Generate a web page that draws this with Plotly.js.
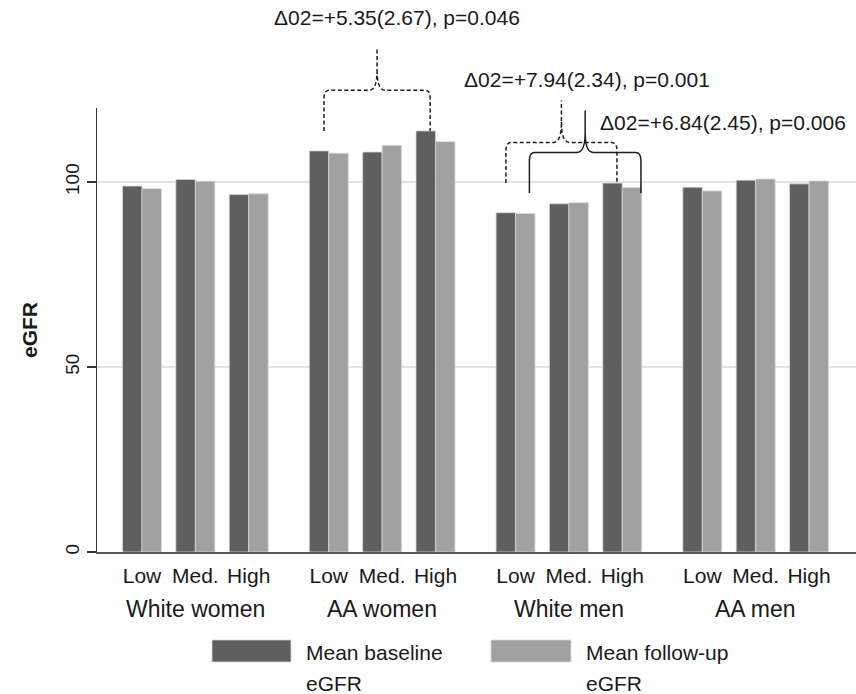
<!DOCTYPE html>
<html><head><meta charset="utf-8">
<script src="https://cdn.plot.ly/plotly-3.0.1.min.js"></script>
<style>html,body{margin:0;padding:0;background:#fff}#chart{width:856px;height:694px}</style>
</head><body><div id="chart"></div>
<script>
// ---- data ----
const groups = ['White women', 'AA women', 'White men', 'AA men'];
const levels = ['Low', 'Med.', 'High'];
const baseline = [98.9, 100.7, 96.6, 108.4, 108.1, 113.8, 91.7, 94.1, 99.7, 98.6, 100.5, 99.5];
const followup = [98.2, 100.2, 96.8, 107.8, 109.9, 110.9, 91.5, 94.4, 98.5, 97.6, 100.8, 100.3];
const seriesNames = ['Mean baseline eGFR', 'Mean follow-up eGFR'];
const legendLines = [['Mean baseline', 'eGFR'], ['Mean follow-up', 'eGFR']];
const comparisonText = ['Δ02=+5.35(2.67), p=0.046', 'Δ02=+7.94(2.34), p=0.001', 'Δ02=+6.84(2.45), p=0.006'];
const comparisonGroup = [1, 2, 2];      // which group the brace spans (Low..High)
const comparisonSeries = [0, 0, 1];     // 0 = baseline, 1 = follow-up
const yTicks = [0, 50, 100];

// ---- styling / layout helpers ----
const colors = ['#5f5f5f', '#a1a1a1'];
const GROUP_STEP = 3.5;
const xpos = [], ticktext = [];
groups.forEach((g, gi) => levels.forEach((l, li) => { xpos.push(gi * GROUP_STEP + li); ticktext.push(l); }));
const groupCenters = groups.map((g, gi) => gi * GROUP_STEP + 1);

const DOM = 444 / 552;   // y-axis domain top (0..120 occupies this fraction)
const YMAX = 120;

const series = [baseline, followup];
const traces = series.map((vals, si) => ({
  type: 'bar', x: xpos, y: vals, name: seriesNames[si],
  marker: { color: colors[si], line: { color: '#d8d8d8', width: 0.8 } },
  hoverinfo: 'y'
}));
// helper trace for the overlay axis used by the braces
traces.push({ type: 'scatter', x: [null], y: [null], xaxis: 'x', yaxis: 'y2', showlegend: false, hoverinfo: 'skip' });

// brace styling per comparison
const braceStyle = [
  { dash: '4px,2.5px', off0: -0.09, off1: -0.10, dy: 0, tx: 2.43, ty: 144.4 },
  { dash: '4px,2.5px', off0: -0.18, off1: -0.10, dy: 0, tx: 5.99, ty: 127.7 },
  { dash: 'solid', off0: 0.26, off1: 0.35, dy: -1.5, tx: 8.55, ty: 116.0 }
];
const RISE = 11, TOP = 11.3, RX = 0.1, RY = 2.2, CX = 0.15, CY = 5.5;

function bracePath(xl, xr, yb, yh, yt) {
  const xm = (xl + xr) / 2;
  return `M${xl},${yb} L${xl},${yh - RY} Q${xl},${yh} ${xl + RX},${yh} L${xm - CX},${yh} ` +
         `Q${xm},${yh} ${xm},${yh + CY} L${xm},${yt} ` +
         `M${xm},${yh + CY} Q${xm},${yh} ${xm + CX},${yh} L${xr - RX},${yh} ` +
         `Q${xr},${yh} ${xr},${yh - RY} L${xr},${yb}`;
}

const shapes = [], annotations = [];
comparisonText.forEach((txt, ci) => {
  const st = braceStyle[ci];
  const g = comparisonGroup[ci];
  const vals = series[comparisonSeries[ci]].slice(g * 3, g * 3 + 3);
  const i0 = g * 3, i2 = g * 3 + 2;
  const yb = Math.max(...vals) + st.dy;
  const yh = yb + RISE, yt = yh + TOP;
  shapes.push({
    type: 'path', xref: 'x', yref: 'y2', layer: 'above',
    path: bracePath(xpos[i0] + st.off0, xpos[i2] + st.off1, yb, yh, yt),
    line: { color: '#1e1e1e', width: 1.5, dash: st.dash }
  });
  annotations.push({
    text: txt, xref: 'x', yref: 'y2', x: st.tx, y: st.ty, xanchor: 'left', yanchor: 'middle',
    showarrow: false, font: { size: 21, color: '#1a1a1a' }
  });
});

// group labels
groups.forEach((g, gi) => annotations.push({
  text: g, xref: 'x', yref: 'paper', x: groupCenters[gi], y: (552 - 609) / 552,
  xanchor: 'center', yanchor: 'middle', showarrow: false, font: { size: 23, color: '#1a1a1a' }
}));

// custom legend (wide swatches)
const legX = [[212, 291], [491, 571]];
const px2x = p => (p - 97) / 759, px2y = p => (552 - p) / 552;
legendLines.forEach((lines, si) => {
  shapes.push({
    type: 'rect', xref: 'paper', yref: 'paper',
    x0: px2x(legX[si][0]), x1: px2x(legX[si][1]), y0: px2y(640), y1: px2y(662),
    fillcolor: colors[si], line: { color: '#d8d8d8', width: 0.8 }
  });
  lines.forEach((ln, li) => annotations.push({
    text: ln, xref: 'paper', yref: 'paper', x: px2x(legX[si][1] + 13), y: px2y(652 + li * 31),
    xanchor: 'left', yanchor: 'middle', showarrow: false, font: { size: 21, color: '#1a1a1a' }
  }));
});

const layout = {
  width: 856, height: 694,
  margin: { l: 97, r: 0, t: 0, b: 142, pad: 0 },
  paper_bgcolor: '#ffffff', plot_bgcolor: 'rgba(0,0,0,0)',
  font: { family: '"Liberation Sans", Arial, Helvetica, sans-serif', color: '#1a1a1a', size: 21 },
  barmode: 'group', bargap: 0.27, bargroupgap: 0, showlegend: false,
  xaxis: {
    range: [-0.843, 13.38], tickvals: xpos, ticktext: ticktext, ticks: '',
    showline: true, linecolor: '#5a5a5a', linewidth: 2, showgrid: false, zeroline: false,
    tickfont: { size: 21 }, ticklabelstandoff: 4, fixedrange: true
  },
  yaxis: {
    domain: [0, DOM], range: [0, YMAX], tickvals: yTicks, ticks: 'outside', ticklen: 9, tickwidth: 1.2,
    tickcolor: '#333', showline: true, linecolor: '#333', linewidth: 1.5,
    showgrid: true, gridcolor: '#e3e3e3', gridwidth: 1.5, zeroline: false,
    tickangle: -90, tickfont: { size: 19 },
    title: { text: '<b>eGFR</b>', font: { size: 21 }, standoff: 18 }, fixedrange: true
  },
  yaxis2: {
    domain: [0, 1], range: [0, YMAX / DOM], anchor: 'x',
    showline: false, showgrid: false, zeroline: false, showticklabels: false, ticks: '', fixedrange: true
  },
  shapes: shapes, annotations: annotations
};

Plotly.newPlot('chart', traces, layout, { displayModeBar: false, staticPlot: true });
</script></body></html>
